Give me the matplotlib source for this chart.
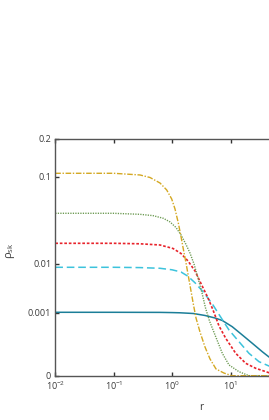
import numpy as np
import matplotlib
matplotlib.use('Agg')
import matplotlib.pyplot as plt
from matplotlib.ticker import FixedLocator, FixedFormatter

plt.rcParams['font.family'] = ['Open Sans', 'DejaVu Sans']
plt.rcParams['mathtext.fontset'] = 'custom'
plt.rcParams['mathtext.rm'] = 'Open Sans'
plt.rcParams['mathtext.it'] = 'Open Sans'
plt.rcParams['mathtext.default'] = 'regular'

# values (r, rho_sk) for each profile
r_gold = [0.01, 0.1, 0.282, 0.418, 0.621, 0.808, 0.984, 1.121, 1.277, 1.42, 1.567, 1.73,
          1.909, 2.106, 2.325, 2.566, 3.004, 3.66, 4.457, 5.646, 7.74, 10.6, 60]
rho_gold = [0.1069, 0.1069, 0.1034, 0.0983, 0.0878, 0.0758, 0.0621, 0.0492, 0.0346, 0.0239,
            0.0159, 0.0103, 0.00605, 0.00328, 0.00159, 0.000706, 0.000232, 4.3e-5, 5.0e-6,
            1.3e-7, 3e-9, 0, 0]

r_green = [0.01, 0.1, 0.282, 0.471, 0.707, 0.921, 1.166, 1.42, 1.73, 2.025, 2.371, 2.777,
           3.251, 3.732, 4.369, 5.58, 7.237, 9.426, 13.98, 20.7, 60]
rho_green = [0.0443, 0.0443, 0.0432, 0.0418, 0.0391, 0.0356, 0.0307, 0.0250, 0.0189, 0.0144,
             0.00992, 0.0058, 0.00298, 0.00134, 0.00057, 0.000147, 1.6e-5, 8.4e-7, 1.6e-8, 0, 0]

r_red = [0.01, 0.1, 0.282, 0.621, 1.036, 1.42, 1.872, 2.466, 3.212, 4.119, 5.015, 6.356,
         8.275, 12.27, 18.21, 27.01, 45.6, 60]
rho_red = [0.01957, 0.01957, 0.01928, 0.01859, 0.01668, 0.0142, 0.01103, 0.00766, 0.00431,
           0.00232, 0.00119, 0.000389, 0.000125, 1.6e-5, 1.5e-6, 1.9e-7, 5e-9, 1e-9]

r_cyan = [0.01, 0.1, 0.282, 0.621, 0.996, 1.42, 1.872, 2.466, 3.517, 5.015, 6.356, 9.426,
          13.98, 20.7, 30.76, 45.6, 60]
rho_cyan = [0.008795, 0.008795, 0.008698, 0.008476, 0.008012, 0.007366, 0.006218, 0.004745,
            0.003009, 0.001591, 0.000894, 0.000278, 8.5e-5, 1.6e-5, 2.45e-6, 5.6e-7, 2.2e-7]

r_teal = [0.01, 0.1, 0.621, 0.996, 1.366, 2.307, 3.66, 5.427, 7.237, 10.7, 15.92, 23.62,
          35.03, 45.6, 60]
rho_teal = [0.001029, 0.001029, 0.001023, 0.00101, 0.000997, 0.000953, 0.000837, 0.000706,
            0.000591, 0.000367, 0.000175, 7.0e-5, 2.1e-5, 7.8e-6, 3.0e-6]

x_ticks = [1e-2, 1e-1, 1e0, 1e1]
x_tick_labels = ['$10^{-2}$', '$10^{-1}$', '$10^{0}$', '$10^{1}$']
y_ticks = [0, 0.001, 0.01, 0.1, 0.2]
y_tick_labels = ['0', '0.001', '0.01', '0.1', '0.2']


def fwd(v):
    v = np.asarray(v, dtype=float)
    return np.sign(v) * np.abs(v) ** 0.25


def inv(v):
    v = np.asarray(v, dtype=float)
    return np.sign(v) * np.abs(v) ** 4


fig = plt.figure(figsize=(2.69, 4.2), dpi=100)
# axes run past the right edge, as in the cropped original
ax = fig.add_axes([0.2056, 0.1055, 1.0855, 0.5636])

ax.plot(r_teal, rho_teal, color='#1b7e98', lw=1.1, ls='-')
ax.plot(r_cyan, rho_cyan, color='#3cc3dc', lw=1.1, ls=(0, (5, 2.5)))
ax.plot(r_red, rho_red, color='#e8232b', lw=1.2, ls=(0, (1.6, 1.1)))
ax.plot(r_green, rho_green, color='#6c9a52', lw=1.0, ls=(0, (0.9, 0.9)))
ax.plot(r_gold, rho_gold, color='#d4a822', lw=1.0, ls=(0, (4, 1.2, 1, 1.2)))

ax.set_xscale('log')
ax.set_yscale('function', functions=(fwd, inv))
ax.set_xlim(1e-2, 1e3)
ax.set_ylim(0, 0.2)
ax.xaxis.set_major_locator(FixedLocator(x_ticks))
ax.xaxis.set_major_formatter(FixedFormatter(x_tick_labels))
ax.yaxis.set_major_locator(FixedLocator(y_ticks))
ax.yaxis.set_major_formatter(FixedFormatter(y_tick_labels))
ax.yaxis.set_minor_locator(FixedLocator([]))
ax.xaxis.set_minor_locator(FixedLocator([]))

for side in ['left', 'bottom', 'top']:
    ax.spines[side].set_color('#555555')
    ax.spines[side].set_linewidth(1.0)
ax.spines['right'].set_visible(False)

ax.tick_params(which='major', direction='in', length=3, width=1.0, color='#333333',
               labelsize=6.5, labelcolor='#3a3a3a', top=True, right=False, pad=3)

ax.set_xlabel('r', fontsize=7.5, color='#3a3a3a')
ax.xaxis.set_label_coords(0.5, -0.11)
ax.set_ylabel(r'$\rho_{sk}$', fontsize=8, color='#3a3a3a')
ax.yaxis.set_label_coords(-0.13, 0.527)

fig.savefig('out.png', dpi=100)
